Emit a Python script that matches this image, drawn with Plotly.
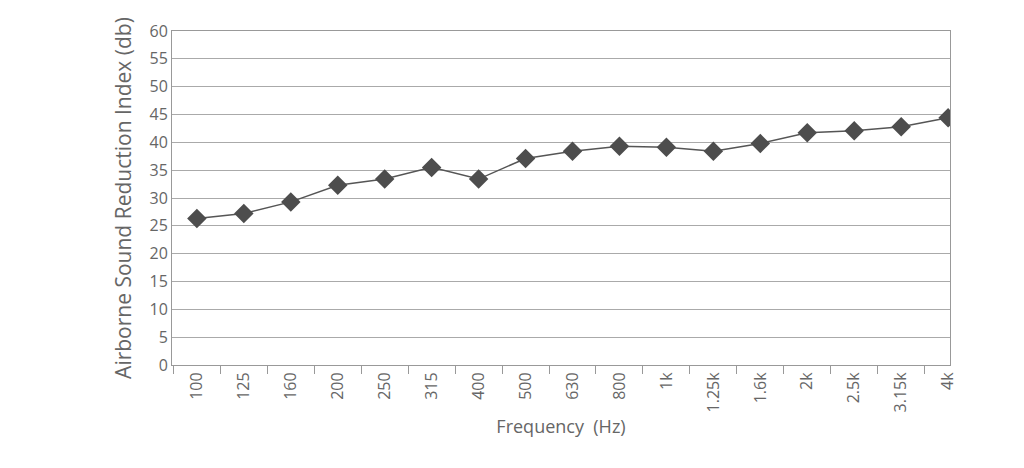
import plotly.graph_objects as go

freqs = ["100", "125", "160", "200", "250", "315", "400", "500", "630", "800",
         "1k", "1.25k", "1.6k", "2k", "2.5k", "3.15k", "4k"]
index_db = [26.3, 27.2, 29.3, 32.3, 33.4, 35.5, 33.4, 37.1, 38.4, 39.3,
            39.1, 38.4, 39.8, 41.7, 42.1, 42.8, 44.4]

grey = "#666666"

fig = go.Figure(go.Scatter(
    x=freqs, y=index_db, mode="lines+markers",
    line=dict(color="#555555", width=1.5),
    marker=dict(symbol="diamond", size=15, color="#4d4d4d"),
))

fig.update_layout(
    width=1024, height=468,
    margin=dict(l=164, r=82, t=19, b=111),
    paper_bgcolor="white", plot_bgcolor="white",
    font=dict(family="Open Sans", color=grey, size=16),
    showlegend=False,
)
fig.update_xaxes(
    title=dict(text="Frequency  (Hz)", font=dict(size=18), standoff=8),
    range=[-0.53, 16.04], tickangle=-90, ticks="outside", tickson="boundaries",
    ticklen=8, tickcolor="#999", showgrid=False,
    showline=True, linecolor="#999", mirror=True,
)
fig.update_yaxes(
    title=dict(text="Airborne Sound Reduction Index (db)", font=dict(size=21), standoff=12),
    range=[0, 60], dtick=5, gridcolor="#aaaaaa",
    showline=True, linecolor="#999", mirror=True, ticks="", zeroline=False,
)

fig.write_html("out.html")
